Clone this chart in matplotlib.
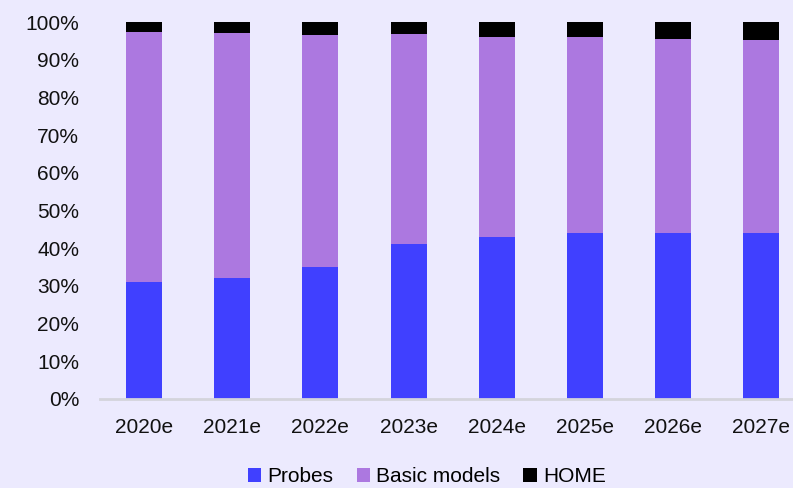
import matplotlib.pyplot as plt
from matplotlib.ticker import FuncFormatter

years = ["2020e", "2021e", "2022e", "2023e", "2024e", "2025e", "2026e", "2027e"]
probes = [31.0, 32.0, 35.0, 41.0, 43.0, 44.0, 44.0, 44.0]
basic_models = [66.3, 65.0, 61.6, 55.7, 53.1, 51.9, 51.6, 51.3]
home = [2.7, 3.0, 3.4, 3.3, 3.9, 4.1, 4.4, 4.7]

bg = "#ECEAFE"
plt.rcParams["font.family"] = ["Liberation Sans", "DejaVu Sans"]

fig = plt.figure(figsize=(7.93, 4.88), dpi=100, facecolor=bg)
ax = fig.add_axes([100 / 793, 1 - 399 / 488, 693 / 793, 377 / 488], facecolor=bg)

x = range(len(years))
w = 0.41
ax.bar(x, probes, w, color="#4040FF", label="Probes")
bottom2 = probes
ax.bar(x, basic_models, w, bottom=bottom2, color="#AC78E0", label="Basic models")
bottom3 = [p + b for p, b in zip(probes, basic_models)]
ax.bar(x, home, w, bottom=bottom3, color="#000000", label="HOME")

ax.set_xlim(-0.5, 7.36)
ax.set_ylim(0, 100)
ax.set_yticks(range(0, 101, 10))
ax.yaxis.set_major_formatter(FuncFormatter(lambda v, p: f"{v:.0f}%"))
ax.set_xticks(list(x))
ax.set_xticklabels(years)
ax.tick_params(axis="both", length=0, labelsize=15, colors="#111111")
ax.tick_params(axis="y", pad=15)
ax.tick_params(axis="x", pad=14)

for s in ["top", "right", "left"]:
    ax.spines[s].set_visible(False)
ax.spines["bottom"].set_color("#D4D4DC")
ax.spines["bottom"].set_linewidth(2)

fig.legend(loc="center", bbox_to_anchor=(427 / 793, 1 - 477 / 488), ncol=3,
           frameon=False, fontsize=15, handlelength=0.65, handleheight=0.65,
           handletextpad=0.3, columnspacing=1.1, borderpad=0.1)

fig.savefig("out.png", dpi=100, facecolor=bg)
